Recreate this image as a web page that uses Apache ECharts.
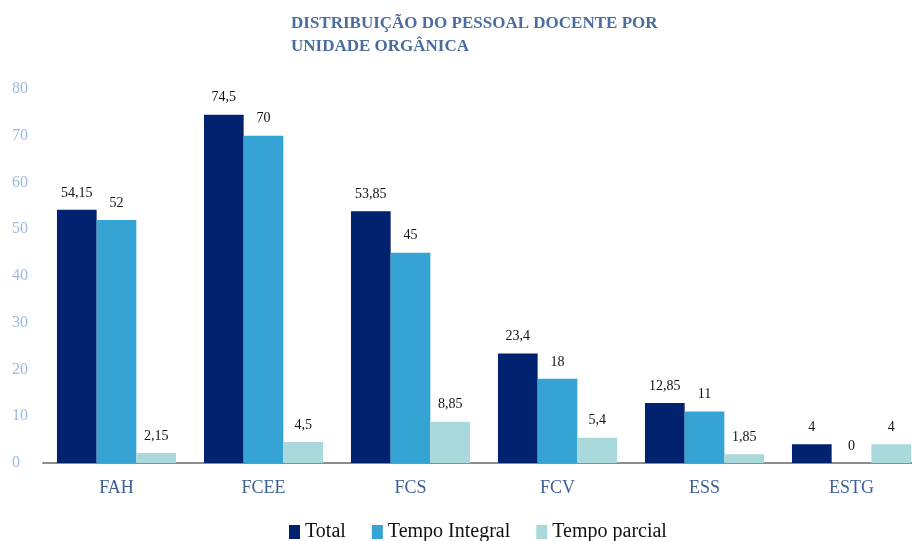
<!DOCTYPE html>
<html><head><meta charset="utf-8">
<script src="https://cdn.jsdelivr.net/npm/echarts@6/dist/echarts.min.js"></script>
<style>html,body{margin:0;padding:0;background:#fff;overflow:hidden;width:912px;height:541px}#c{width:925px;height:541px}</style>
</head><body><div id="c"></div>
<script>
const categories = ['FAH','FCEE','FCS','FCV','ESS','ESTG'];
const total = [54.15, 74.5, 53.85, 23.4, 12.85, 4];
const tempoIntegral = [52, 70, 45, 18, 11, 0];
const tempoParcial = [2.15, 4.5, 8.85, 5.4, 1.85, 4];
const seriesNames = ['Total','Tempo Integral','Tempo parcial'];
const yTicks = [0,10,20,30,40,50,60,70,80];

const FONT = '"Liberation Serif", "DejaVu Serif", serif';
const colors = ['#00226F','#35A4D5','#A9D9DA'];
const chart = echarts.init(document.getElementById('c'));
const fmt = p => String(p.value).replace('.', ',');
function mk(name, data, i){
  return {
    name, type:'bar', data, barGap:'0%', barCategoryGap:'19%',
    itemStyle:{color:colors[i]},
    label:{show:true, position:'top', distance:10, formatter:fmt,
      color:'#111', fontFamily:FONT, fontSize:14},
    emphasis:{disabled:true}
  };
}
chart.setOption({
  animation:false,
  title:{text:'DISTRIBUIÇÃO DO PESSOAL DOCENTE POR\nUNIDADE ORGÂNICA', left:286, top:7,
    textStyle:{color:'#4A6C9E', fontFamily:FONT, fontWeight:'bold', fontSize:17, lineHeight:23}},
  legend:{bottom:-6, left:284, itemWidth:11, itemHeight:14, itemGap:26,
    icon:'rect', textStyle:{fontFamily:FONT, fontSize:20, color:'#111'}, data:seriesNames},
  grid:{left:43, top:89, right:0, bottom:78},
  xAxis:{type:'category', data:categories,
    axisLine:{lineStyle:{color:'#8c8c8c', width:2}}, axisTick:{show:false},
    axisLabel:{color:'#3E6194', fontFamily:FONT, fontSize:18, margin:16}},
  yAxis:{type:'value', min:yTicks[0], max:yTicks[yTicks.length-1], interval:10,
    splitLine:{show:false}, axisLine:{show:false}, axisTick:{show:false},
    axisLabel:{color:'#9DBBE0', fontFamily:FONT, fontSize:16, align:'left', margin:31}},
  series:[mk(seriesNames[0], total, 0), mk(seriesNames[1], tempoIntegral, 1), mk(seriesNames[2], tempoParcial, 2)]
});
</script></body></html>
